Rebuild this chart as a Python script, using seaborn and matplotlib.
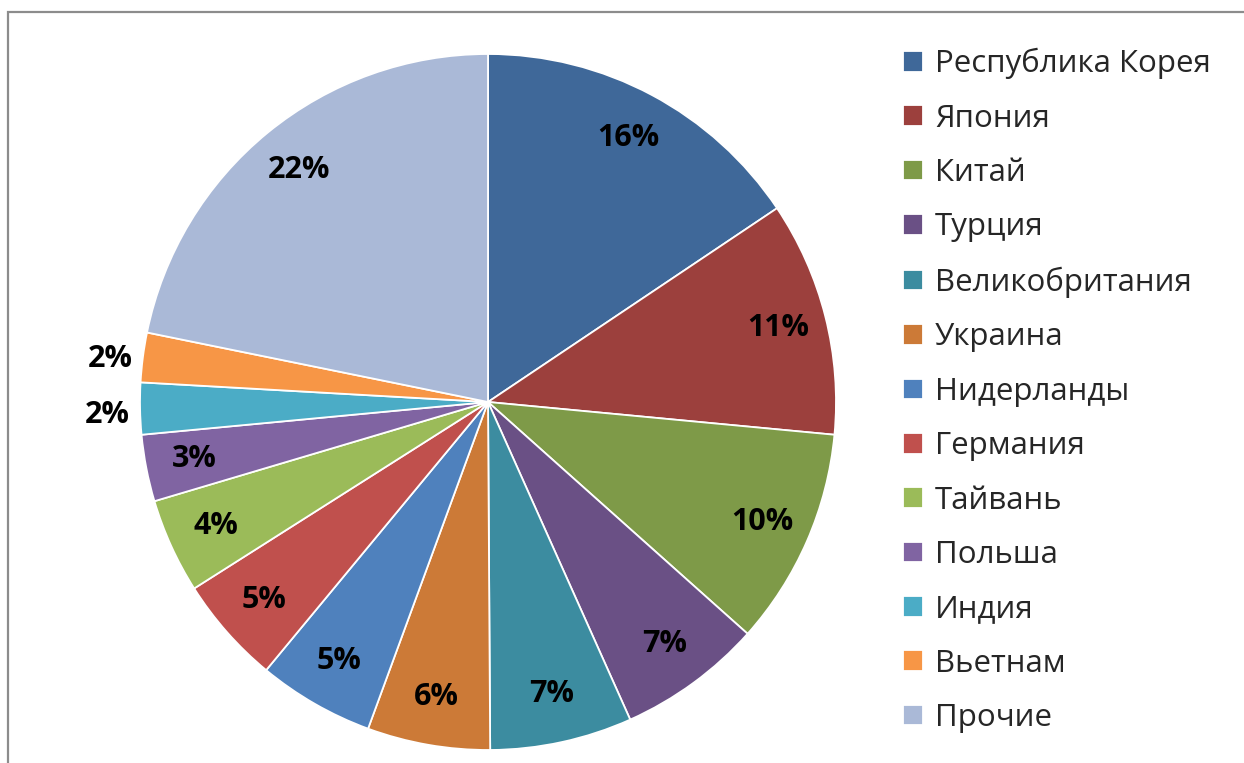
import matplotlib
matplotlib.use("Agg")
import matplotlib.pyplot as plt
import matplotlib.patches as mpatches
import numpy as np
import seaborn as sns

countries = ["Республика Корея", "Япония", "Китай", "Турция", "Великобритания",
             "Украина", "Нидерланды", "Германия", "Тайвань", "Польша",
             "Индия", "Вьетнам", "Прочие"]
shares = [15.6, 10.9, 10.1, 6.7, 6.6, 5.7, 5.4, 5.0, 4.4, 3.1, 2.4, 2.3, 21.8]
outside_labels = ["Индия", "Вьетнам"]

colors = ["#3F6899", "#9C403D", "#7E9A48", "#6A5085", "#3C8CA0", "#CC7A37",
          "#4F81BD", "#C0504D", "#9BBB59", "#8064A2", "#4BACC6", "#F79646",
          "#AAB9D7"]

sns.set_theme(style="white")
plt.rcParams['font.family'] = ['Open Sans', 'DejaVu Sans']

W, H = 1244, 763
fig = plt.figure(figsize=(W / 100, H / 100), dpi=100)
fig.patch.set_facecolor("white")

cx, cy, R = 488, 402, 348
ax = fig.add_axes([(cx - R) / W, (H - cy - R) / H, 2 * R / W, 2 * R / H])

palette = sns.color_palette(colors)
wedges, texts, autotexts = ax.pie(
    shares, colors=palette, startangle=90, counterclock=False,
    autopct="%.0f%%", pctdistance=0.86,
    wedgeprops=dict(edgecolor="white", linewidth=1.3))
ax.set_xlim(-1, 1)
ax.set_ylim(-1, 1)
ax.set_aspect("equal")
ax.axis("off")

for w, t, name in zip(wedges, autotexts, countries):
    t.set_fontsize(22)
    t.set_fontweight("bold")
    t.set_color("black")
    if name in outside_labels:
        mid = np.deg2rad((w.theta1 + w.theta2) / 2)
        t.set_position((1.095 * np.cos(mid), 1.095 * np.sin(mid) - 0.018))

leg = fig.legend(wedges, countries, loc="upper left",
                 bbox_to_anchor=(903 / W, 1 - 48 / H),
                 frameon=False, fontsize=22.5, handlelength=0.64, handleheight=0.64,
                 handletextpad=0.38, labelspacing=0.78, borderpad=0, borderaxespad=0)

frame = mpatches.Rectangle((8 / W, -0.1), 1.5, (1 - 12 / H) + 0.1,
                           transform=fig.transFigure, fill=False,
                           edgecolor="#8C8C8C", linewidth=1.6)
fig.patches.append(frame)

fig.savefig("out.png", dpi=100)
